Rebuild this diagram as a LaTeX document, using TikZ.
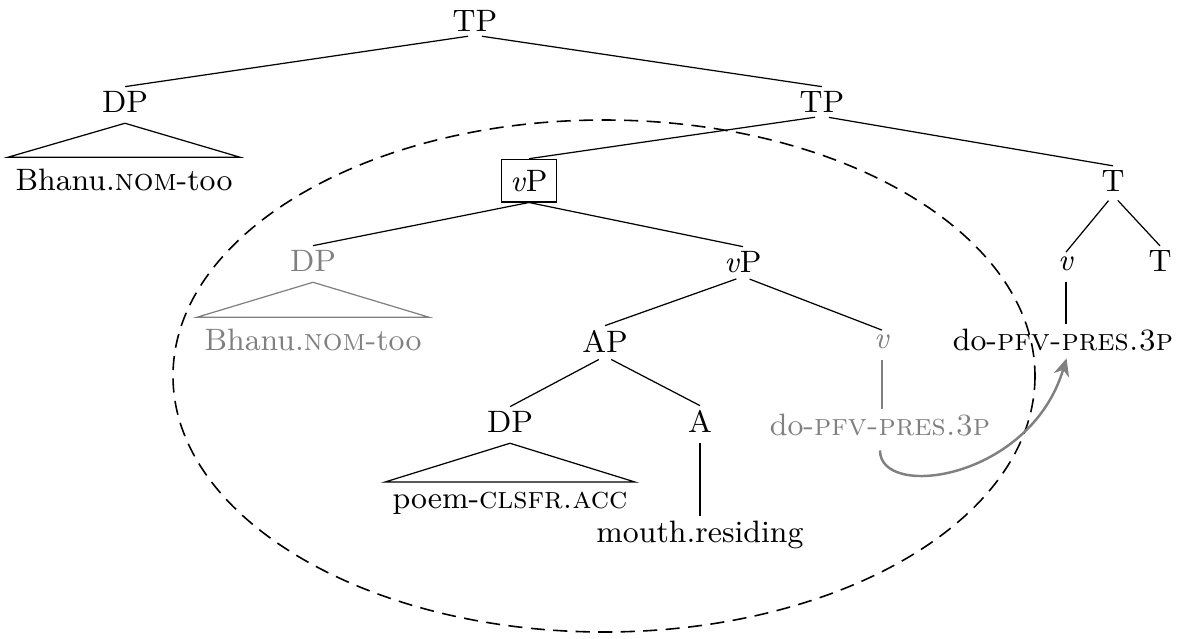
\documentclass[tikz,border=0pt]{standalone}
\usepackage{tikz}
\usetikzlibrary{arrows.meta,positioning}

\begin{document}
\begin{tikzpicture}
        [x=0.01cm, y=-0.01cm,
        every node/.style={font=\fontsize{8.8}{10.5}\selectfont, inner sep=1pt},
        cat/.style={anchor=base},
        ghost/.style={text=gray},
        branch/.style={draw, line width=0.35pt, shorten <=2pt},
        gbranch/.style={branch, draw=gray},
        tri/.style={draw, line width=0.35pt},
        phase/.style={draw, line width=0.45pt, dash pattern=on 4pt off 2.4pt},
        movement/.style={draw=gray, line width=0.7pt, -{Stealth[length=5pt, width=4.5pt]}}]
        \useasboundingbox (0,0) rectangle (1184,639);
        % top of the tree
        \node[cat] (tp) at (475,31) {TP};
        \node[cat] (dps) at (125,112) {DP};
        \node[cat] (tpbar) at (822,112) {TP};
        \node[cat] (subj) at (124,190) {Bhanu.\textsc{nom}-too};
        \node[cat, draw, line width=0.35pt, inner xsep=2.5pt, inner ysep=3pt] (vpbox) at (529,191) {\textit{v}P};
        \node[cat] (t) at (1113,191) {T};
        % lower copy of the subject
        \node[cat, ghost] (dpg) at (313,271) {DP};
        \node[cat, ghost] (subjg) at (313,350) {Bhanu.\textsc{nom}-too};
        \node[cat] (vp) at (743,272) {\textit{v}P};
        \node[cat] (vhead) at (1066,270) {\textit{v}};
        \node[cat] (thead) at (1160,271) {T};
        \node[cat] (ap) at (605,352) {AP};
        \node[cat, ghost] (vg) at (882,348) {\textit{v}};
        \node[cat] (verb) at (1063,350) {do-\textsc{pfv-pres.3p}};
        \node[cat] (dpo) at (510,432) {DP};
        \node[cat] (a) at (700,432) {A};
        \node[cat, ghost] (verbg) at (880,435) {do-\textsc{pfv-pres.3p}};
        \node[cat] (obj) at (510,508) {poem-\textsc{clsfr.acc}};
        \node[cat] (adj) at (700,542) {mouth.residing};
        % branches
        \path[branch] (tp.south) -- (dps.north);
        \path[branch] (tp.south) -- (tpbar.north);
        \path[tri] ([yshift=-2pt]dps.south) -- ([shift={(-1pt,2pt)}]subj.north west)
                -- ([shift={(1pt,2pt)}]subj.north east) -- cycle;
        \path[branch] (tpbar.south) -- (vpbox.north);
        \path[branch] (tpbar.south) -- (t.north);
        \path[branch, shorten <=0pt] (vpbox.south) -- (dpg.north);
        \path[branch, shorten <=0pt] (vpbox.south) -- (vp.north);
        \path[tri, draw=gray] ([yshift=-2pt]dpg.south) -- ([shift={(-1pt,2pt)}]subjg.north west)
                -- ([shift={(1pt,2pt)}]subjg.north east) -- cycle;
        \path[branch] (vp.south) -- (ap.north);
        \path[branch] (vp.south) -- (vg.north);
        \path[branch] (t.south) -- (vhead.north);
        \path[branch] (t.south) -- (thead.north);
        \path[branch] (vhead.south) -- (vhead.south |- verb.north);
        \path[branch] (ap.south) -- (dpo.north);
        \path[branch] (ap.south) -- (a.north);
        \path[gbranch] (vg.south) -- (vg.south |- verbg.north);
        \path[tri] ([yshift=-2pt]dpo.south) -- ([shift={(-1pt,1.5pt)}]obj.north west)
                -- ([shift={(1pt,1.5pt)}]obj.north east) -- cycle;
        \path[branch] (a.south) -- (a.south |- adj.north);
        % the phase and head movement
        \path[phase] (604,376) ellipse [x radius=431, y radius=256];
        \draw[movement] ([yshift=-3pt]verbg.south) .. controls (880,500) and (1030,480) .. ([shift={(1pt,-1pt)}]verb.south);
    \end{tikzpicture}
\end{document}
